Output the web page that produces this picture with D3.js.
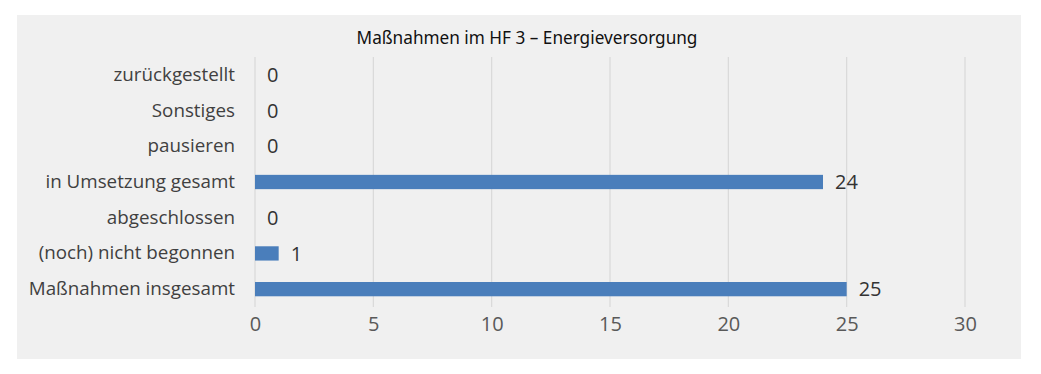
<!DOCTYPE html>
<html>
<head>
<meta charset="utf-8">
<script src="https://cdn.jsdelivr.net/npm/d3@7"></script>
<style>
  body { margin: 0; background: #fff; }
</style>
</head>
<body>
<svg></svg>
<script>
// data, top to bottom as in the chart
let categories = ['zurückgestellt', 'Sonstiges', 'pausieren', 'in Umsetzung gesamt',
                  'abgeschlossen', '(noch) nicht begonnen', 'Maßnahmen insgesamt'];
let values = [0, 0, 0, 24, 0, 1, 25];
let ticks = [0, 5, 10, 15, 20, 25, 30];
let title = 'Maßnahmen im HF 3 – Energieversorgung';

let svgWidth = 1041,
    svgHeight = 374;

let svg = d3.select('svg')
            .attr('width', svgWidth)
            .attr('height', svgHeight);

// grey panel
svg.append('rect')
   .attr('x', 17)
   .attr('y', 15)
   .attr('width', 1004)
   .attr('height', 344)
   .attr('fill', '#f0f0f0');

svg.append('text')
   .attr('x', 527)
   .attr('y', 44)
   .attr('text-anchor', 'middle')
   .attr('font-family', 'Noto Sans')
   .attr('font-size', 17.2)
   .attr('fill', '#111')
   .text(title);

let x = d3.scaleLinear()
          .domain([0, 30])
          .range([255, 965]);

let y = d3.scaleBand()
          .domain(categories)
          .range([57, 307])
          .paddingInner(0.6)
          .paddingOuter(0.3);

// vertical gridlines
svg.append('g')
   .selectAll('line')
   .data(ticks)
   .join('line')
   .attr('x1', d => x(d))
   .attr('x2', d => x(d))
   .attr('y1', 57)
   .attr('y2', 307)
   .attr('stroke', '#d9d9d9')
   .attr('stroke-width', 1.2);

// x axis labels
let xAxis = svg.append('g')
               .attr('transform', 'translate(0,307)')
               .call(d3.axisBottom(x).tickValues(ticks).tickSize(0).tickPadding(10));
xAxis.select('.domain').remove();
xAxis.selectAll('text')
     .attr('font-family', 'Open Sans')
     .attr('font-size', 20)
     .attr('fill', '#595959');

// category labels
let yAxis = svg.append('g')
               .attr('transform', 'translate(255,0)')
               .call(d3.axisLeft(y).tickSize(0).tickPadding(20));
yAxis.select('.domain').remove();
yAxis.selectAll('text')
     .attr('font-family', 'Open Sans')
     .attr('font-size', 18.8)
     .attr('fill', '#404040');

// bars
svg.append('g')
   .selectAll('rect')
   .data(categories)
   .join('rect')
   .attr('x', x(0))
   .attr('y', d => y(d))
   .attr('width', (d, i) => x(values[i]) - x(0))
   .attr('height', y.bandwidth())
   .attr('fill', '#4a7ebb');

// value labels
svg.append('g')
   .selectAll('text')
   .data(categories)
   .join('text')
   .attr('x', (d, i) => x(values[i]) + 12)
   .attr('y', d => y(d) + y.bandwidth() / 2)
   .attr('dy', '0.36em')
   .attr('font-family', 'Open Sans')
   .attr('font-size', 20)
   .attr('fill', '#333')
   .text((d, i) => values[i]);
</script>
</body>
</html>
